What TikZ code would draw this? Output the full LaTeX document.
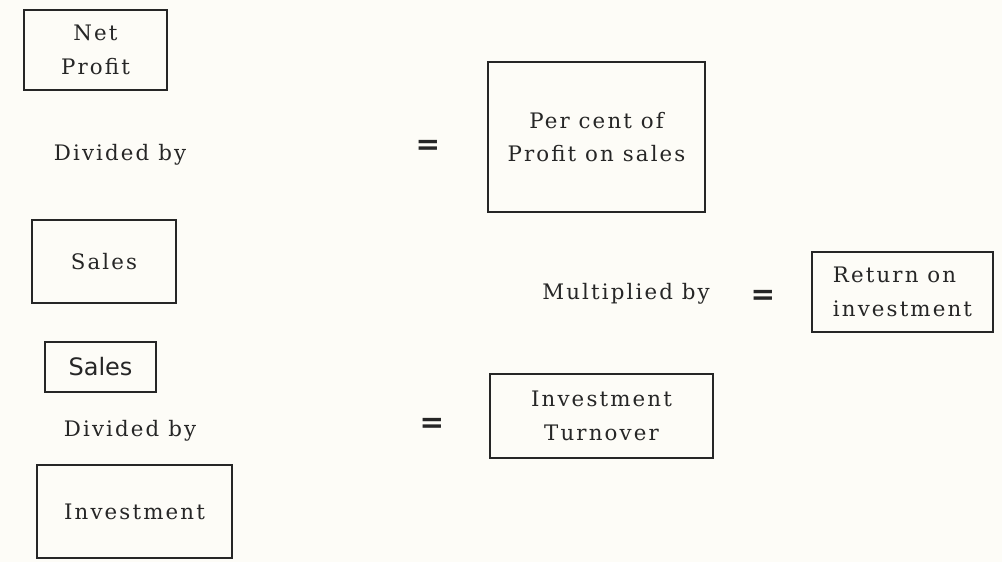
\documentclass[tikz,border=0pt]{standalone}
\usepackage{fontspec}
\setmainfont{DejaVu Serif}[LetterSpace=10]
\newfontfamily\boxsans{DejaVu Sans}
\begin{document}
\begin{tikzpicture}[x=0.75pt,y=-0.75pt,
  lbl/.style={font=\fontsize{16}{19}\selectfont, text=black!85, inner sep=0pt},
  bx/.style={draw=black!85, line width=1.5pt, inner sep=0pt, align=center,
     font=\fontsize{16}{25}\selectfont, text=black!85},
  eq/.style={font=\boxsans\bfseries\fontsize{22}{22}\selectfont, text=black!85, inner sep=0pt}]
\fill[fill={rgb,255:red,253;green,252;blue,247}] (0,0) rectangle (1002,562);
\useasboundingbox (0,0) rectangle (1002,562);
% row 1
\node[bx, minimum width=107.25pt, minimum height=60pt] (np) at (95.5,50) {Net\\Profit};
\node[lbl] (div1) at (120,155) {Divided by};
\node[bx, minimum width=108pt, minimum height=62.25pt] (s1) at (104,261.5) {Sales};
\node[eq] (eq1) at (428,147) {=};
\node[bx, minimum width=162.75pt, minimum height=112.5pt] (pc) at (596.5,137) {Per cent of\\Profit on sales};
% middle
\node[lbl] (mul) at (626,294) {Multiplied by};
\node[eq] (eq2) at (763,297) {=};
\node[bx, minimum width=135.75pt, minimum height=60pt, align=left] (roi) at (902.5,292) {Return on\\investment};
% row 2
\node[bx, minimum width=83.25pt, minimum height=37.5pt, font=\boxsans\fontsize{18}{20}\selectfont] (s2) at (100.5,367) {Sales};
\node[lbl] (div2) at (130,431) {Divided by};
\node[bx, minimum width=146.25pt, minimum height=69.75pt] (inv) at (134.5,511.5) {Investment};
\node[eq] (eq3) at (432,425) {=};
\node[bx, minimum width=167.25pt, minimum height=63pt] (it) at (601.5,416) {Investment\\Turnover};
\end{tikzpicture}
\end{document}
